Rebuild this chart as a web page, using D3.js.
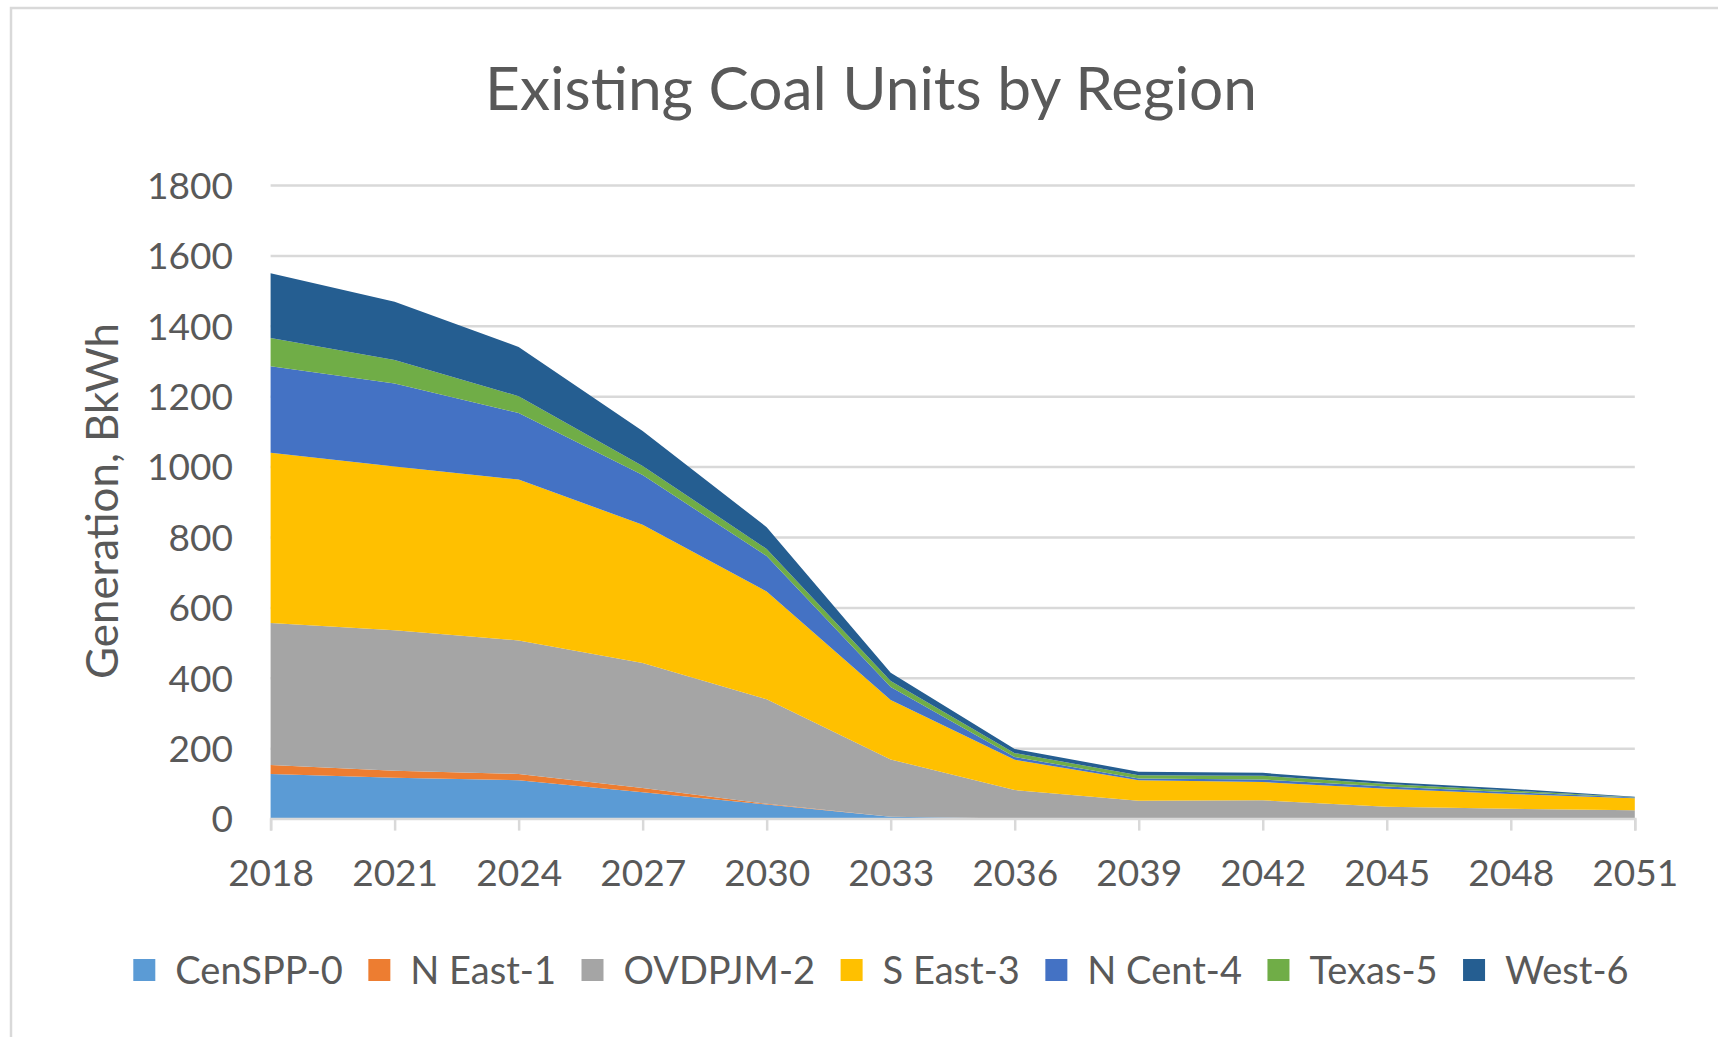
<!DOCTYPE html>
<html>
<head>
<meta charset="utf-8">
<script src="https://cdn.jsdelivr.net/npm/d3@7/dist/d3.min.js"></script>
<style>
  html, body { margin: 0; padding: 0; background: #ffffff; }
  svg { display: block; }
</style>
</head>
<body>
<svg id="chart" width="1718" height="1037"></svg>
<script>
// Generation from existing coal units, BkWh, by region and year
const years   = [2018, 2021, 2024, 2027, 2030, 2033, 2036, 2039, 2042, 2045, 2048, 2051];
const regions = ["CenSPP-0", "N East-1", "OVDPJM-2", "S East-3", "N Cent-4", "Texas-5", "West-6"];

const cenSPP = [127, 116, 109, 75, 40, 5, 0, 0, 0, 0, 0, 0];
const nEast  = [25, 20, 18, 12, 2, 0, 0, 0, 0, 0, 0, 0];
const ovdpjm = [404, 399, 379, 355, 297, 163, 81, 51, 52, 34, 28, 24];
const sEast  = [483, 465, 457, 393, 306, 169, 86, 58, 52, 51, 42, 34];
const nCent  = [246, 236, 189, 141, 101, 37, 8, 5, 7, 6, 5, 2];
const texas  = [80, 67, 48, 26, 20, 17, 11, 9, 11, 7, 5, 1];
const west   = [184, 165, 140, 99, 62, 23, 12, 10, 8, 6, 5, 1];

const yTicks = [0, 200, 400, 600, 800, 1000, 1200, 1400, 1600, 1800];

const chartTitle = "Existing Coal Units by Region";
const yTitle = "Generation, BkWh";

const colors = ["#5B9BD5", "#ED7D31", "#A5A5A5", "#FFC000", "#4472C4", "#70AD47", "#255E91"];

// ---- layout ----
const FONT = "Lato, 'Open Sans', sans-serif";
const TEXT = "#595959";
const GRID = "#d9d9d9";
const plot = { left: 270.6, right: 1634.8, top: 185, bottom: 818.6 };

const svg = d3.select("#chart");

// measure helper: font size that makes a string span a given width
function fitSize(str, target) {
  const t = svg.append("text").attr("font-family", FONT).attr("font-size", 100).text(str);
  const w = t.node().getComputedTextLength();
  t.remove();
  return 100 * target / w;
}

// chart frame
svg.append("rect")
  .attr("x", 11).attr("y", 8)
  .attr("width", 1800).attr("height", 1200)
  .attr("fill", "#ffffff")
  .attr("stroke", GRID).attr("stroke-width", 2.5);

const series = [cenSPP, nEast, ovdpjm, sEast, nCent, texas, west];
const rows = years.map((yr, i) => {
  const r = { year: yr };
  regions.forEach((k, j) => { r[k] = series[j][i]; });
  return r;
});

const x = d3.scalePoint().domain(years).range([plot.left, plot.right]).padding(0);
const y = d3.scaleLinear().domain([0, 1800]).range([plot.bottom, plot.top]);

// gridlines
svg.append("g")
  .attr("transform", `translate(${plot.left},0)`)
  .call(d3.axisLeft(y).tickValues(yTicks.filter(v => v > 0)).tickSize(-(plot.right - plot.left)).tickFormat(""))
  .call(g => g.select(".domain").remove())
  .call(g => g.selectAll("line").attr("stroke", GRID).attr("stroke-width", 2.5));

// stacked areas
const stack = d3.stack().keys(regions);
const layers = stack(rows);
const area = d3.area()
  .x(d => x(d.data.year))
  .y0(d => y(d[0]))
  .y1(d => y(d[1]));

svg.append("g").selectAll("path")
  .data(layers)
  .join("path")
  .attr("d", area)
  .attr("fill", (d, i) => colors[i]);

// tick label sizing
const tickFs = fitSize("2018", 86);

// x axis
svg.append("g")
  .attr("transform", `translate(0,${plot.bottom})`)
  .call(d3.axisBottom(x).tickSize(12).tickPadding(0))
  .call(g => g.select(".domain").attr("stroke", GRID).attr("stroke-width", 2.5))
  .call(g => g.selectAll(".tick line").attr("stroke", GRID).attr("stroke-width", 2.5))
  .call(g => g.selectAll(".tick text")
    .attr("fill", TEXT)
    .attr("font-family", FONT)
    .attr("font-size", tickFs)
    .attr("y", 873 - plot.bottom + 0.358 * tickFs)
    .attr("dy", null));

// y axis labels
svg.append("g")
  .attr("transform", `translate(233,0)`)
  .call(d3.axisLeft(y).tickValues(yTicks).tickFormat(d3.format("d")).tickSize(0).tickPadding(0))
  .call(g => g.select(".domain").remove())
  .call(g => g.selectAll(".tick text")
    .attr("fill", TEXT)
    .attr("font-family", FONT)
    .attr("font-size", tickFs)
    .attr("x", 0)
    .attr("dy", null)
    .attr("y", 0.358 * tickFs));

// title
const titleFs = fitSize(chartTitle, 772);
svg.append("text")
  .attr("x", 871).attr("y", 110)
  .attr("text-anchor", "middle")
  .attr("font-family", FONT).attr("font-size", titleFs)
  .attr("fill", TEXT)
  .text(chartTitle);

// y axis title
const yTitleFs = fitSize(yTitle, 356);
svg.append("text")
  .attr("transform", `translate(118,501) rotate(-90)`)
  .attr("text-anchor", "middle")
  .attr("font-family", FONT).attr("font-size", yTitleFs)
  .attr("fill", TEXT)
  .text(yTitle);

// legend
const legendTextTotal = 1049;
const baseW = regions.map(r => fitSize(r, 100));   // size giving 100px width
const widthsAt100 = baseW.map(s => 100 * 100 / s); // width at 100px font
const legendFs = 100 * legendTextTotal / d3.sum(widthsAt100);
const textW = widthsAt100.map(w => w * legendFs / 100);
const sq = 22, sqGap = 20, itemGap = 25.4;
const totalW = d3.sum(textW) + regions.length * (sq + sqGap) + (regions.length - 1) * itemGap;
let lx = 881 - totalW / 2;
const legendY = 970;
const legend = svg.append("g");
regions.forEach((r, i) => {
  legend.append("rect")
    .attr("x", lx).attr("y", legendY - sq / 2)
    .attr("width", sq).attr("height", sq)
    .attr("fill", colors[i]);
  legend.append("text")
    .attr("x", lx + sq + sqGap)
    .attr("y", legendY + 0.358 * legendFs)
    .attr("font-family", FONT).attr("font-size", legendFs)
    .attr("fill", TEXT)
    .text(r);
  lx += sq + sqGap + textW[i] + itemGap;
});
</script>
</body>
</html>
